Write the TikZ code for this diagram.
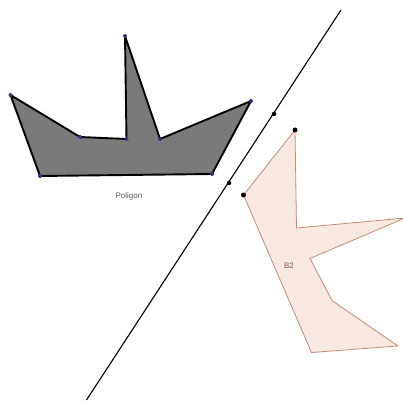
\documentclass[tikz,border=0pt]{standalone}
\usepackage{fontspec}
\setmainfont{Liberation Sans}
\begin{document}
\begin{tikzpicture}[x=1pt,y=-1pt,
  vdot/.style={circle,fill=#1,inner sep=0pt,minimum size=5pt},
  lbl/.style={font=\fontsize{8}{9}\selectfont}]
\useasboundingbox (0,0) rectangle (403,403);
\clip (0,0) rectangle (403,403);
% original polygon
\coordinate (A) at (125,36);
\coordinate (B) at (160,139);
\coordinate (C) at (251,101);
\coordinate (D) at (212,174);
\coordinate (E) at (40,176);
\coordinate (F) at (10.5,95);
\coordinate (G) at (80,137);
\coordinate (H) at (126.5,139);
\filldraw[fill=black!52,draw=black,line width=1.9pt,line join=round]
  (A) -- (B) -- (C) -- (D) -- (E) -- (F) -- (G) -- (H) -- cycle;
\foreach \p in {A,B,C,D,E,F,G,H}
  \node[vdot={blue!35!black!80},minimum size=4pt] at (\p) {};
\node[lbl,text=black!65] (pl) at (129,196) {Poligon};
% mirror line
\coordinate (L1) at (341,10);
\coordinate (L2) at (86.5,400);
\draw[line width=1.1pt] (L1) -- (L2);
\node[vdot=black,minimum size=4.5pt] (m1) at (274,114) {};
\node[vdot=black,minimum size=4.5pt] (m2) at (229,183) {};
% reflected polygon
\coordinate (A2) at (405,218);
\coordinate (B2) at (296.5,228);
\coordinate (C2) at (295,130);
\coordinate (D2) at (243.5,195);
\coordinate (E2) at (311.5,352.5);
\coordinate (F2) at (398,346);
\coordinate (G2) at (332,300.5);
\coordinate (H2) at (310,258.5);
\filldraw[fill={rgb,255:red,248;green,232;blue,226},draw={rgb,255:red,195;green,140;blue,120},line width=0.8pt,line join=round]
  (A2) -- (B2) -- (C2) -- (D2) -- (E2) -- (F2) -- (G2) -- (H2) -- cycle;
\node[vdot=black] (c2) at (C2) {};
\node[vdot=black] (d2) at (D2) {};
\node[lbl,text={rgb,255:red,140;green,80;blue,70}] (b2l) at (289,266) {B2};
\end{tikzpicture}
\end{document}
